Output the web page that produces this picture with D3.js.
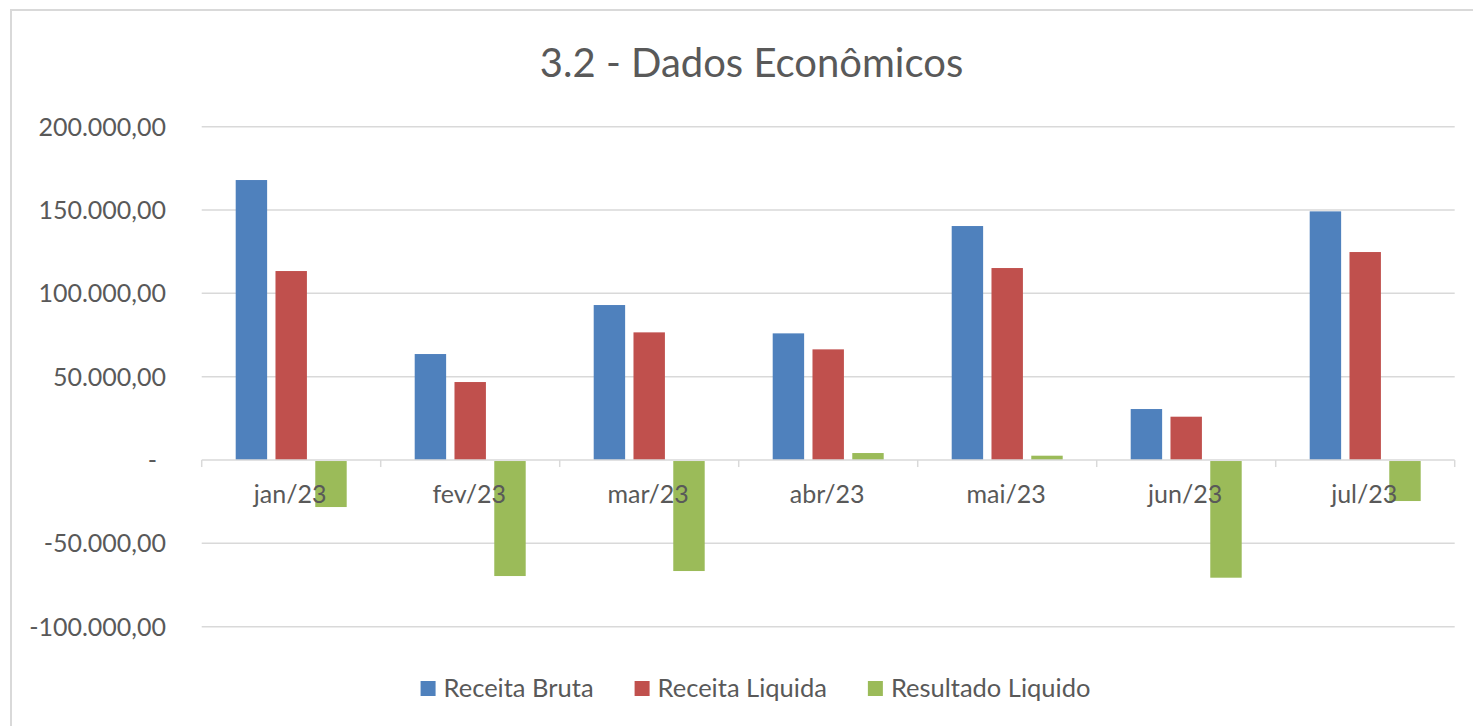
<!DOCTYPE html>
<html>
<head>
<meta charset="utf-8">
<script src="https://cdn.jsdelivr.net/npm/d3@7"></script>
<style>
  body { margin: 0; background: #fff; }
  svg { display: block; }
  text { font-family: Lato, "Open Sans", sans-serif; fill: #595959; }
</style>
</head>
<body>
<svg id="chart" width="1473" height="726"></svg>
<script>
const months = ["jan/23", "fev/23", "mar/23", "abr/23", "mai/23", "jun/23", "jul/23"];
const series = ["Receita Bruta", "Receita Liquida", "Resultado Liquido"];
const receitaBruta = [168000, 63600, 93000, 76000, 140400, 30600, 149200];
const receitaLiquida = [113400, 46800, 76600, 66400, 115200, 26000, 124800];
const resultadoLiquido = [-27600, -69000, -66000, 4200, 2600, -70000, -24000];
const yTicks = [-100000, -50000, 0, 50000, 100000, 150000, 200000];
const colors = ["#4f81bd", "#c0504d", "#9bbb59"];

const CHART = {
    selector: "#chart",
    left: 201.7,
    right: 1454.7,
    top: 126.7,
    bottom: 626.7,
};

function drawChart(chart) {
    const svg = d3.select(chart.selector);
    const values = [receitaBruta, receitaLiquida, resultadoLiquido];

    // outer frame
    svg.append("rect")
        .attr("x", 11).attr("y", 10)
        .attr("width", 1500).attr("height", 800)
        .attr("fill", "none")
        .attr("stroke", "#d9d9d9")
        .attr("stroke-width", 2);

    // title
    svg.append("text")
        .attr("x", 751.5).attr("y", 77)
        .attr("text-anchor", "middle")
        .attr("font-size", 40)
        .text("3.2 - Dados Econômicos");

    const x = d3.scaleBand().domain(months).range([chart.left, chart.right]);
    const x1 = d3.scaleBand().domain(series).range([34, 145]).paddingInner(0.21);
    const y = d3.scaleLinear().domain([-100000, 200000]).range([chart.bottom, chart.top]);

    // pt-BR number format, zero shown as a dash
    const fmt = (v) => v === 0 ? "-" :
        d3.format(",.2f")(v).replace("−", "-").replace(/,/g, "#").replace(".", ",").replace(/#/g, ".");

    // gridlines
    svg.append("g")
        .selectAll("line")
        .data(yTicks.filter(t => t !== 0))
        .join("line")
        .attr("x1", chart.left).attr("x2", chart.right)
        .attr("y1", d => y(d)).attr("y2", d => y(d))
        .attr("stroke", "#d9d9d9")
        .attr("stroke-width", 1.5);

    // y labels
    svg.append("g")
        .selectAll("text")
        .data(yTicks)
        .join("text")
        .attr("x", d => d === 0 ? 157 : 166)
        .attr("y", d => y(d) + 9)
        .attr("text-anchor", "end")
        .attr("font-size", 25)
        .text(fmt);

    // bars
    series.forEach((s, i) => {
        svg.append("g")
            .selectAll("rect")
            .data(values[i])
            .join("rect")
            .attr("x", (d, j) => x(months[j]) + x1(s))
            .attr("width", x1.bandwidth())
            .attr("y", d => d >= 0 ? y(d) : y(0) + 1)
            .attr("height", d => Math.abs(y(d) - y(0)))
            .attr("fill", colors[i]);
    });

    // zero axis with ticks
    const axis = svg.append("g").attr("transform", `translate(0,${y(0)})`);
    axis.append("line")
        .attr("x1", chart.left).attr("x2", chart.right)
        .attr("stroke", "#d9d9d9").attr("stroke-width", 1.5);
    axis.selectAll("line.tick")
        .data(d3.range(months.length + 1))
        .join("line")
        .attr("class", "tick")
        .attr("x1", i => chart.left + i * x.step())
        .attr("x2", i => chart.left + i * x.step())
        .attr("y1", 0).attr("y2", 7)
        .attr("stroke", "#d9d9d9").attr("stroke-width", 1.5);

    // category labels (drawn over bars as in original)
    svg.append("g")
        .selectAll("text")
        .data(months)
        .join("text")
        .attr("x", d => x(d) + x.bandwidth() / 2 - 1)
        .attr("y", 503)
        .attr("text-anchor", "middle")
        .attr("font-size", 25)
        .text(d => d);

    // legend
    const legend = svg.append("g");
    let lx = 0;
    series.forEach((s, i) => {
        const g = legend.append("g");
        g.append("rect")
            .attr("y", 681).attr("width", 15).attr("height", 15)
            .attr("fill", colors[i]);
        const t = g.append("text")
            .attr("x", 23).attr("y", 697)
            .attr("font-size", 25.5)
            .text(s);
        const w = 23 + t.node().getComputedTextLength();
        g.attr("transform", `translate(${lx},0)`);
        lx += w + 41;
    });
    const total = lx - 41;
    legend.attr("transform", `translate(${755.5 - total / 2},0)`);
}

window.addEventListener("load", function () {
    drawChart(CHART);
});
</script>
</body>
</html>
